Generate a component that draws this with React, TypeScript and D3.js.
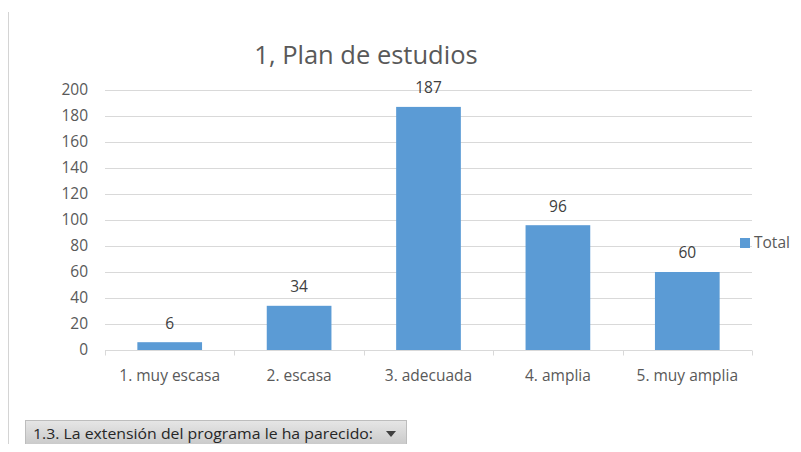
import React, { useEffect, useRef } from "react";
import * as d3 from "d3";

const categories = ["1. muy escasa", "2. escasa", "3. adecuada", "4. amplia", "5. muy amplia"];
const totals = [6, 34, 187, 96, 60];
const yTicks = [0, 20, 40, 60, 80, 100, 120, 140, 160, 180, 200];
const rowTicks = [17, 47, 77, 107, 137, 167, 197, 227, 257, 287, 317, 347, 377, 407, 437];

const App = () => {
  const svgRef = useRef<SVGSVGElement>(null);

  useEffect(() => {
    const svg = d3.select(svgRef.current);
    svg.selectAll("*").remove();
    const width = 801;
    const height = 452;
    const margin = { top: 90, right: 49, bottom: 102, left: 105 };
    const font = "'Open Sans', 'Noto Sans', sans-serif";
    const labelSize = 15.5;

    svg.append("rect").attr("width", width).attr("height", height).attr("fill", "#fff");

    // spreadsheet row borders on the left
    svg.append("line")
      .attr("x1", 8.5).attr("x2", 8.5).attr("y1", 12).attr("y2", height)
      .attr("stroke", "#d4d4d4");
    svg.selectAll(".row-tick")
      .data(rowTicks)
      .enter()
      .append("line")
      .attr("class", "row-tick")
      .attr("x1", 5).attr("x2", 8.5)
      .attr("y1", d => d + 0.5).attr("y2", d => d + 0.5)
      .attr("stroke", "#d4d4d4");

    const xScale = d3.scaleBand()
      .domain(categories)
      .range([margin.left, width - margin.right])
      .paddingInner(0.5)
      .paddingOuter(0.25);

    const yScale = d3.scaleLinear()
      .domain([0, 200])
      .range([height - margin.bottom, margin.top]);

    // gridlines
    svg.selectAll(".grid")
      .data(yTicks.filter(t => t > 0))
      .enter()
      .append("line")
      .attr("class", "grid")
      .attr("x1", margin.left).attr("x2", width - margin.right)
      .attr("y1", d => Math.round(yScale(d)) + 0.5)
      .attr("y2", d => Math.round(yScale(d)) + 0.5)
      .attr("stroke", "#d9d9d9");

    // y labels
    svg.selectAll(".y-label")
      .data(yTicks)
      .enter()
      .append("text")
      .attr("class", "y-label")
      .attr("x", 88)
      .attr("y", d => yScale(d))
      .attr("dy", "0.35em")
      .attr("text-anchor", "end")
      .attr("font-family", font)
      .attr("font-size", labelSize)
      .attr("fill", "#595959")
      .text(d => d);

    // bars
    svg.selectAll(".bar")
      .data(totals)
      .enter()
      .append("rect")
      .attr("class", "bar")
      .attr("x", (d, i) => xScale(categories[i]))
      .attr("y", d => yScale(d))
      .attr("width", xScale.bandwidth())
      .attr("height", d => yScale(0) - yScale(d))
      .attr("fill", "#5b9bd5");

    // x axis
    const baseY = Math.round(yScale(0)) + 0.5;
    svg.append("line")
      .attr("x1", margin.left).attr("x2", width - margin.right)
      .attr("y1", baseY).attr("y2", baseY)
      .attr("stroke", "#d9d9d9");
    const step = xScale.step();
    const bounds = d3.range(categories.length + 1).map(i => margin.left + i * step);
    svg.selectAll(".x-tick")
      .data(bounds)
      .enter()
      .append("line")
      .attr("class", "x-tick")
      .attr("x1", d => Math.round(d) + 0.5).attr("x2", d => Math.round(d) + 0.5)
      .attr("y1", baseY).attr("y2", baseY + 5)
      .attr("stroke", "#d9d9d9");

    svg.selectAll(".x-label")
      .data(categories)
      .enter()
      .append("text")
      .attr("class", "x-label")
      .attr("x", d => xScale(d) + xScale.bandwidth() / 2)
      .attr("y", 376)
      .attr("dy", "0.35em")
      .attr("text-anchor", "middle")
      .attr("font-family", font)
      .attr("font-size", labelSize)
      .attr("fill", "#595959")
      .text(d => d);

    // data labels
    svg.selectAll(".value-label")
      .data(totals)
      .enter()
      .append("text")
      .attr("class", "value-label")
      .attr("x", (d, i) => xScale(categories[i]) + xScale.bandwidth() / 2)
      .attr("y", d => yScale(d) - 19)
      .attr("dy", "0.35em")
      .attr("text-anchor", "middle")
      .attr("font-family", font)
      .attr("font-size", labelSize)
      .attr("fill", "#404040")
      .text(d => d);

    // title
    svg.append("text")
      .attr("x", 366)
      .attr("y", 55)
      .attr("dy", "0.35em")
      .attr("text-anchor", "middle")
      .attr("font-family", font)
      .attr("font-size", 25.5)
      .attr("fill", "#595959")
      .text("1, Plan de estudios");

    // legend
    svg.append("rect")
      .attr("x", 740).attr("y", 238)
      .attr("width", 10).attr("height", 10)
      .attr("fill", "#5b9bd5");
    svg.append("text")
      .attr("x", 754).attr("y", 243)
      .attr("dy", "0.35em")
      .attr("font-family", font)
      .attr("font-size", labelSize)
      .attr("fill", "#595959")
      .text("Total");

    // field button
    const grad = svg.append("defs").append("linearGradient")
      .attr("id", "btn").attr("x1", 0).attr("x2", 0).attr("y1", 0).attr("y2", 1);
    grad.append("stop").attr("offset", "0%").attr("stop-color", "#e6e6e6");
    grad.append("stop").attr("offset", "100%").attr("stop-color", "#c8c8c8");
    svg.append("rect")
      .attr("x", 25.5).attr("y", 420.5)
      .attr("width", 381).attr("height", 26)
      .attr("fill", "url(#btn)")
      .attr("stroke", "#bdbdbd");
    svg.append("text")
      .attr("x", 33).attr("y", 434)
      .attr("dy", "0.35em")
      .attr("font-family", font)
      .attr("font-size", 15)
      .attr("fill", "#262626")
      .attr("textLength", 340)
      .attr("lengthAdjust", "spacingAndGlyphs")
      .text("1.3. La extensión del programa le ha parecido:");
    svg.append("path")
      .attr("d", "M386,431 L396,431 L391,437 Z")
      .attr("fill", "#404040");
  }, []);

  return (
    <div style={{ margin: -8 }}>
      <svg ref={svgRef} width={801} height={452} style={{ display: "block" }}></svg>
    </div>
  );
};

export default App;
